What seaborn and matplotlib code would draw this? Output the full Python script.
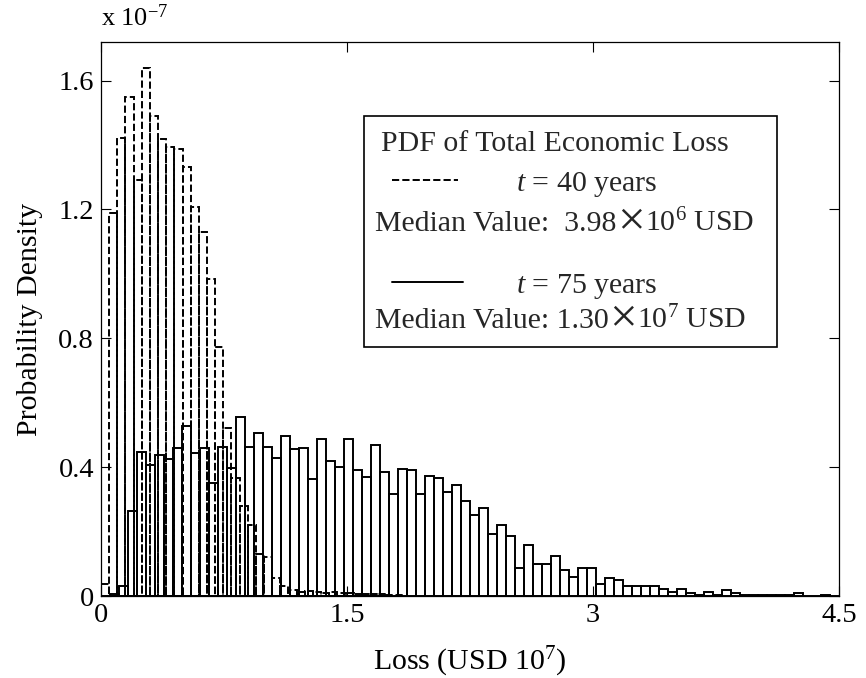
import numpy as np
import pandas as pd
import matplotlib
matplotlib.use("Agg")
import matplotlib.pyplot as plt
import seaborn as sns
from matplotlib.lines import Line2D
from matplotlib.patches import Rectangle

# ---------------- data (loss in 1e7 USD, density in 1e-7 / USD) ----------------
# t = 40 years : bin width ~0.0497, bins start at 0
t40_bin_width = 0.0497
t40_density = [0.037, 1.19, 1.421, 1.55, 1.29, 1.64, 1.49, 1.42, 1.393, 1.389,
               1.331, 1.207, 1.13, 0.985, 0.773, 0.522, 0.367, 0.279, 0.22, 0.13,
               0.12, 0.057, 0.03, 0.02, 0.012, 0.015, 0.012, 0.01, 0.012, 0.008,
               0.008, 0.006, 0.007, 0.005, 0.006, 0.004, 0.003]
# t = 75 years : 82 bins over [0, 4.5]
t75_range = (0.0, 4.5)
t75_density = [0.0, 0.005, 0.032, 0.264, 0.446, 0.406, 0.437, 0.424, 0.461, 0.527,
               0.443, 0.458, 0.35, 0.462, 0.397, 0.555, 0.462, 0.507, 0.462, 0.428,
               0.497, 0.457, 0.460, 0.362, 0.487, 0.419, 0.399, 0.487, 0.391, 0.370,
               0.469, 0.385, 0.318, 0.394, 0.390, 0.318, 0.374, 0.365, 0.323, 0.346,
               0.296, 0.253, 0.272, 0.191, 0.219, 0.187, 0.088, 0.158, 0.098, 0.098,
               0.125, 0.080, 0.060, 0.088, 0.088, 0.036, 0.055, 0.050, 0.031, 0.031,
               0.031, 0.031, 0.022, 0.011, 0.022, 0.008, 0.003, 0.011, 0.003, 0.019,
               0.008, 0.002, 0.002, 0.003, 0.003, 0.003, 0.003, 0.008, 0.0, 0.0,
               0.003, 0.0]

x_ticks = [0, 1.5, 3, 4.5]
x_tick_labels = ["0", "1.5", "3", "4.5"]
y_ticks = [0, 0.4, 0.8, 1.2, 1.6]
y_tick_labels = ["0", "0.4", "0.8", "1.2", "1.6"]

legend_title = "PDF of Total Economic Loss"
label_t40 = "$t$ = 40 years"
median_t40 = ("Median Value:  3.98", "10$^{6}$ USD")
label_t75 = "$t$ = 75 years"
median_t75 = ("Median Value: 1.30", "10$^{7}$ USD")

# ---------------- build tables ----------------
e40 = np.arange(len(t40_density) + 1) * t40_bin_width
df40 = pd.DataFrame({"loss": (e40[:-1] + e40[1:]) / 2, "density": t40_density})
e75 = np.linspace(t75_range[0], t75_range[1], len(t75_density) + 1)
df75 = pd.DataFrame({"loss": (e75[:-1] + e75[1:]) / 2, "density": t75_density})

# ---------------- style ----------------
sns.set_theme(style="white")
plt.rcParams["font.family"] = ["Liberation Serif", "DejaVu Serif"]
plt.rcParams["mathtext.fontset"] = "custom"
plt.rcParams["mathtext.rm"] = "Liberation Serif"
plt.rcParams["mathtext.it"] = "Liberation Serif:italic"

fig = plt.figure(figsize=(8.66, 6.78), dpi=100)
ax = fig.add_axes([101 / 866, 82 / 678, 738 / 866, 554 / 678])

sns.histplot(data=df40, x="loss", weights="density", bins=list(e40), stat="count",
             element="bars", fill=False, color="black", linewidth=1.4,
             linestyle="--", ax=ax)
sns.histplot(data=df75, x="loss", weights="density", bins=list(e75), stat="count",
             element="bars", fill=False, color="black", linewidth=1.4,
             linestyle="-", ax=ax)

ax.set_xlim(0, 4.5)
ax.set_ylim(0, 1.72)
ax.set_xticks(x_ticks)
ax.set_xticklabels(x_tick_labels)
ax.set_yticks(y_ticks)
ax.set_yticklabels(y_tick_labels)
ax.tick_params(direction="in", length=7, width=0.8, labelsize=20.5, colors="black",
               top=True, right=True, bottom=True, left=True, pad=5)
for s in ax.spines.values():
    s.set_visible(True)
    s.set_color("black")
    s.set_linewidth(0.9)

ax.set_xlabel("Loss (USD 10$^{7}$)", fontsize=21.5, color="black")
ax.set_ylabel("Probability Density", fontsize=21.5, color="black")
ax.xaxis.set_label_coords(0.5, -0.088)
ax.yaxis.set_label_coords(-0.078, 0.5)
ax.text(0.0, 1.02, "x 10$^{-7}$", transform=ax.transAxes, fontsize=19,
        ha="left", va="bottom", color="black")

# ---------------- legend box ----------------
def px(xp, yp):
    return ((xp - 101) / 738, (596 - yp) / 554)

bx0, by0 = px(364, 347)
bx1, by1 = px(777, 116)
ax.add_patch(Rectangle((bx0, by0), bx1 - bx0, by1 - by0, transform=ax.transAxes,
                       facecolor="white", edgecolor="black", linewidth=1.2, zorder=5))
fs = 21.5
x, y = px(381, 151)
ax.text(x, y, legend_title, transform=ax.transAxes, fontsize=fs, va="baseline", ha="left", zorder=6)
x0, y0 = px(392, 180)
x1, _ = px(458, 180)
ax.add_line(Line2D([x0, x1], [y0, y0], transform=ax.transAxes, color="black",
                   linestyle="--", linewidth=1.4, zorder=6))
x, y = px(516, 191)
ax.text(x, y, label_t40, transform=ax.transAxes, fontsize=fs, va="baseline", ha="left", zorder=6)


def median_line(parts, xp, yp):
    x, y = px(xp, yp)
    t1 = ax.text(x, y, parts[0], transform=ax.transAxes, fontsize=fs,
                 va="baseline", ha="left", zorder=6)
    t2 = ax.annotate("\u00d7", xy=(1, y), xycoords=(t1, "axes fraction"),
                     xytext=(0.5, -2.5), textcoords="offset points",
                     fontsize=fs * 1.65, family=["Liberation Serif"], va="baseline",
                     ha="left", zorder=6)
    ax.annotate(parts[1], xy=(1, y), xycoords=(t2, "axes fraction"), xytext=(0, 0),
                textcoords="offset points", fontsize=fs, va="baseline",
                ha="left", zorder=6)


median_line(median_t40, 375, 231)
x0, y0 = px(392, 282)
x1, _ = px(463, 282)
ax.add_line(Line2D([x0, x1], [y0, y0], transform=ax.transAxes, color="black",
                   linestyle="-", linewidth=1.4, zorder=6))
x, y = px(516, 293)
ax.text(x, y, label_t75, transform=ax.transAxes, fontsize=fs, va="baseline", ha="left", zorder=6)
median_line(median_t75, 375, 328)

fig.savefig("out.png", dpi=100, facecolor="white")
